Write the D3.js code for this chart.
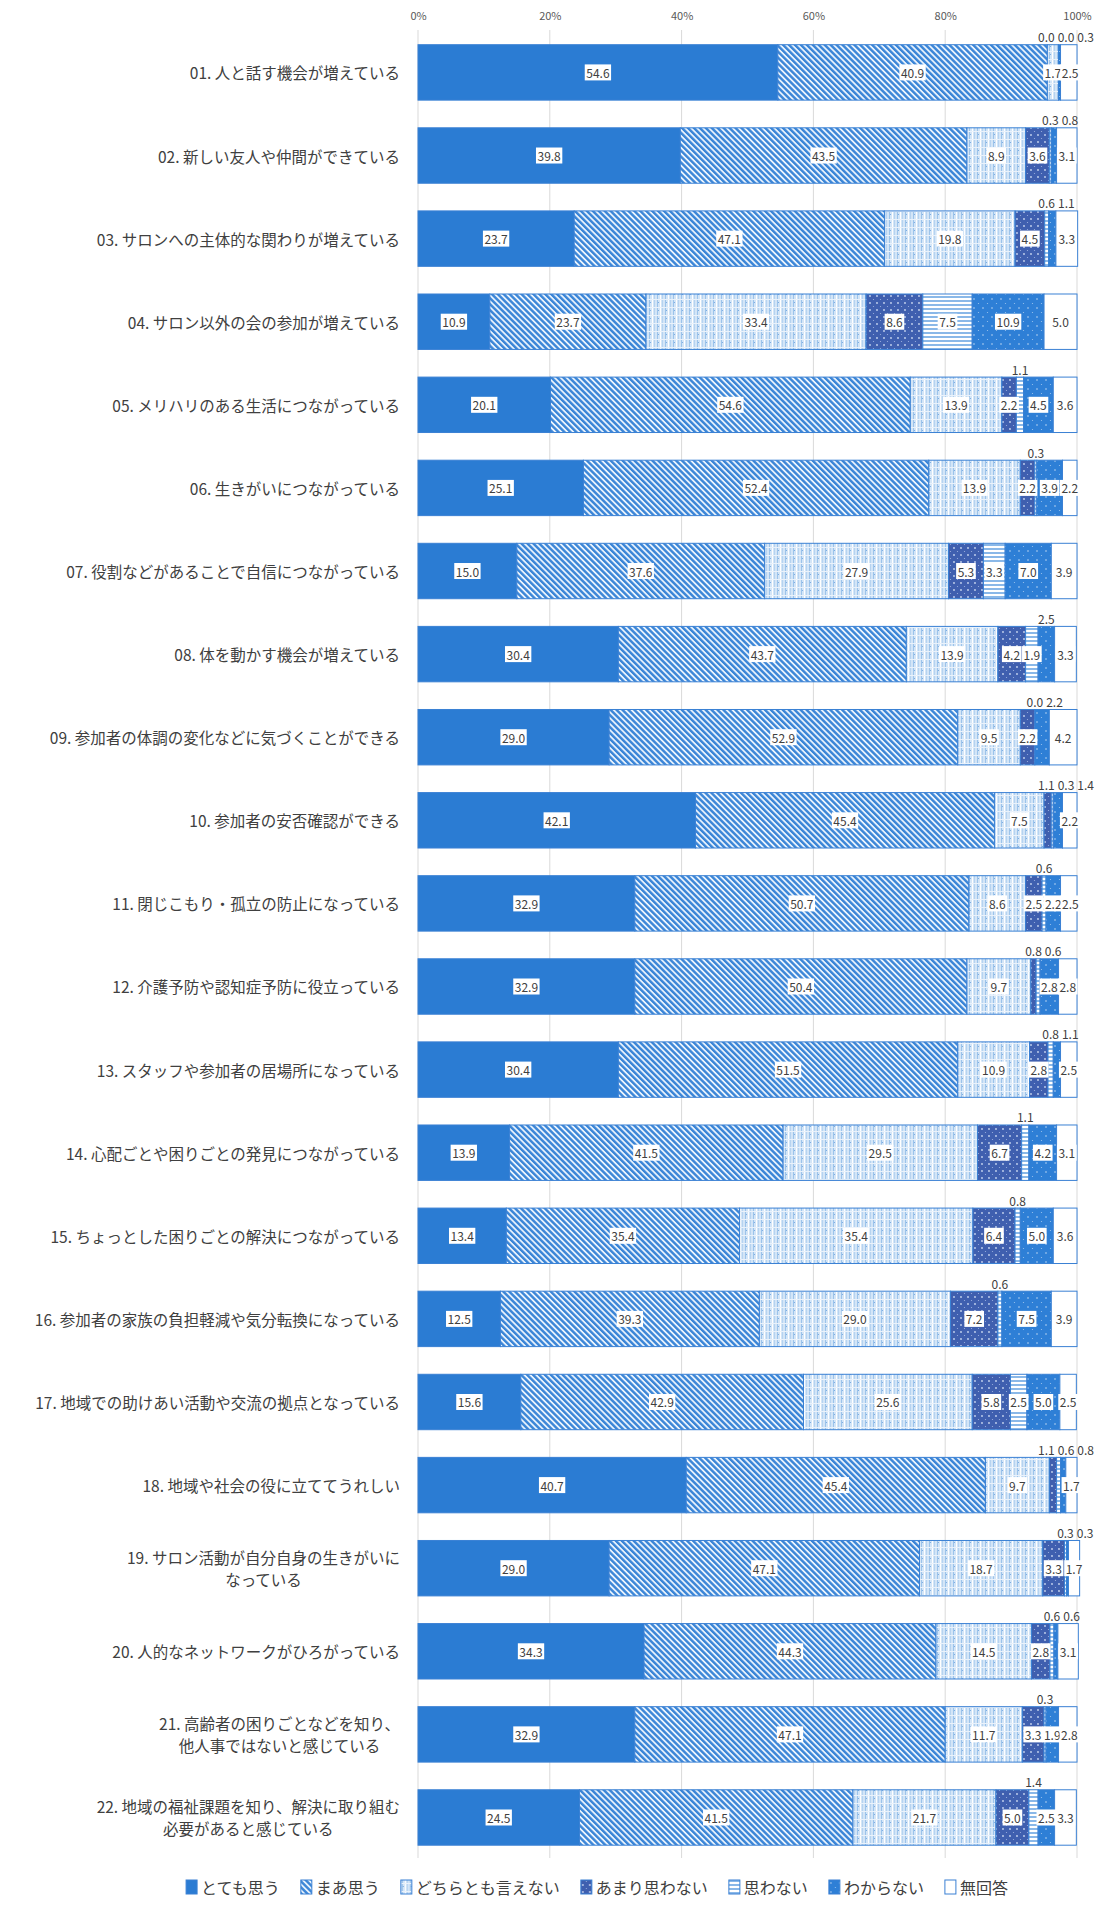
<!DOCTYPE html>
<html><head><meta charset="utf-8">
<script src="https://cdn.jsdelivr.net/npm/d3@7"></script>
<style>body{margin:0;background:#fff;} svg{display:block;}</style>
</head><body>
<svg id="chart" width="1097" height="1907"></svg>
<script>
const categories = [
  "01. 人と話す機会が増えている",
  "02. 新しい友人や仲間ができている",
  "03. サロンへの主体的な関わりが増えている",
  "04. サロン以外の会の参加が増えている",
  "05. メリハリのある生活につながっている",
  "06. 生きがいにつながっている",
  "07. 役割などがあることで自信につながっている",
  "08. 体を動かす機会が増えている",
  "09. 参加者の体調の変化などに気づくことができる",
  "10. 参加者の安否確認ができる",
  "11. 閉じこもり・孤立の防止になっている",
  "12. 介護予防や認知症予防に役立っている",
  "13. スタッフや参加者の居場所になっている",
  "14. 心配ごとや困りごとの発見につながっている",
  "15. ちょっとした困りごとの解決につながっている",
  "16. 参加者の家族の負担軽減や気分転換になっている",
  "17. 地域での助けあい活動や交流の拠点となっている",
  "18. 地域や社会の役に立ててうれしい",
  "19. サロン活動が自分自身の生きがいに\nなっている",
  "20. 人的なネットワークがひろがっている",
  "21. 高齢者の困りごとなどを知り、\n他人事ではないと感じている",
  "22. 地域の福祉課題を知り、解決に取り組む\n必要があると感じている"
];
const seriesNames = ["とても思う","まあ思う","どちらとも言えない","あまり思わない","思わない","わからない","無回答"];
const totemoOmou   = [54.6,39.8,23.7,10.9,20.1,25.1,15.0,30.4,29.0,42.1,32.9,32.9,30.4,13.9,13.4,12.5,15.6,40.7,29.0,34.3,32.9,24.5];
const maaOmou      = [40.9,43.5,47.1,23.7,54.6,52.4,37.6,43.7,52.9,45.4,50.7,50.4,51.5,41.5,35.4,39.3,42.9,45.4,47.1,44.3,47.1,41.5];
const dochiramo    = [1.7,8.9,19.8,33.4,13.9,13.9,27.9,13.9,9.5,7.5,8.6,9.7,10.9,29.5,35.4,29.0,25.6,9.7,18.7,14.5,11.7,21.7];
const amariOmowanai= [0.0,3.6,4.5,8.6,2.2,2.2,5.3,4.2,2.2,1.1,2.5,0.8,2.8,6.7,6.4,7.2,5.8,1.1,3.3,2.8,3.3,5.0];
const omowanai     = [0.0,0.3,0.6,7.5,1.1,0.3,3.3,1.9,0.0,0.3,0.6,0.6,0.8,1.1,0.8,0.6,2.5,0.6,0.3,0.6,0.3,1.4];
const wakaranai    = [0.3,0.8,1.1,10.9,4.5,3.9,7.0,2.5,2.2,1.4,2.2,2.8,1.1,4.2,5.0,7.5,5.0,0.8,0.3,0.6,1.9,2.5];
const mukaitou     = [2.5,3.1,3.3,5.0,3.6,2.2,3.9,3.3,4.2,2.2,2.5,2.8,2.5,3.1,3.6,3.9,2.5,1.7,1.7,3.1,2.8,3.3];
const xTickValues = [0,20,40,60,80,100];
const xTickLabels = ["0%","20%","40%","60%","80%","100%"];

const seriesValues = [totemoOmou, maaOmou, dochiramo, amariOmowanai, omowanai, wakaranai, mukaitou];
const table = categories.map((c,i)=>{
  const o = {cat:c};
  seriesNames.forEach((s,j)=>{ o[s] = seriesValues[j][i]; });
  return o;
});

const svg = d3.select("#chart");
const FONT = "'Noto Sans CJK JP','Noto Sans',sans-serif";
const TXT = "#404040";
const EDGE = "#3a80d4";

// patterns
const defs = svg.append("defs");
function pat(id, w, h, build, transform){
  const p = defs.append("pattern").attr("id",id).attr("patternUnits","userSpaceOnUse")
    .attr("width",w).attr("height",h);
  if (transform) p.attr("patternTransform", transform);
  build(p);
}
pat("p0",4,4,p=>{ p.append("rect").attr("width",4).attr("height",4).attr("fill","#2b7cd3"); });
pat("p1",4.2,4.2,p=>{
  p.append("rect").attr("width",4.2).attr("height",4.2).attr("fill","#eaf3fc");
  p.append("rect").attr("width",2.4).attr("height",4.2).attr("fill","#3a85d7");
},"rotate(-45)");
pat("p2",8,8,p=>{
  p.append("rect").attr("width",8).attr("height",8).attr("fill","#d3e5f7");
  p.append("rect").attr("x",1).attr("width",1).attr("height",8).attr("fill","#9cc3ea");
  p.append("rect").attr("x",4).attr("width",1).attr("height",8).attr("fill","#ffffff");
  p.append("rect").attr("x",6).attr("width",1).attr("height",8).attr("fill","#b6d3f0");
  p.append("rect").attr("y",3).attr("width",8).attr("height",1).attr("fill","#eaf2fb");
  p.append("rect").attr("x",2).attr("y",6).attr("width",1).attr("height",1).attr("fill","#7eaee3");
});
pat("p3",7,7,p=>{
  p.append("rect").attr("width",7).attr("height",7).attr("fill","#3f5faf");
  p.append("circle").attr("cx",2).attr("cy",2).attr("r",0.9).attr("fill","#c9d6f0");
  p.append("circle").attr("cx",5.5).attr("cy",5.5).attr("r",0.6).attr("fill","#9fb3e0");
});
pat("p4",4,4,p=>{
  p.append("rect").attr("width",4).attr("height",4).attr("fill","#ffffff");
  p.append("rect").attr("width",4).attr("height",2).attr("fill","#8ab8e8");
});
pat("p5",9,9,p=>{
  p.append("rect").attr("width",9).attr("height",9).attr("fill","#2e7fd6");
  p.append("circle").attr("cx",2).attr("cy",2).attr("r",0.8).attr("fill","#bfd8f3");
  p.append("circle").attr("cx",6.5).attr("cy",6.5).attr("r",0.6).attr("fill","#9cc4ee");
});
pat("p6",4,4,p=>{ p.append("rect").attr("width",4).attr("height",4).attr("fill","#ffffff"); });

const x = d3.scaleLinear().domain([0,100]).range([418,1077]);
const y = d3.scaleBand().domain(categories).range([30.85,1859.05]).paddingInner(0.333).paddingOuter(0.1667);

// grid
const gridTop = 30, gridBottom = 1858;
svg.append("g").selectAll("line").data(xTickValues).join("line")
  .attr("x1",d=>x(d)).attr("x2",d=>x(d)).attr("y1",gridTop).attr("y2",gridBottom)
  .attr("stroke","#d9d9d9").attr("stroke-width",1);

// axis labels
const axis = d3.axisTop(x).tickValues(xTickValues).tickFormat((d,i)=>xTickLabels[i]).tickSize(0).tickPadding(0);
const ag = svg.append("g").attr("transform","translate(0,20)").call(axis);
ag.select(".domain").remove();
ag.selectAll("text").attr("font-family",FONT).attr("font-size",11).attr("fill","#595959");

// bars
const stack = d3.stack().keys(seriesNames);
const stacked = stack(table);
const gBars = svg.append("g");
stacked.forEach((layer,si)=>{
  gBars.append("g").selectAll("rect").data(layer).join("rect")
    .attr("x",d=>x(d[0])).attr("y",d=>y(d.data.cat))
    .attr("width",d=>Math.max(0,x(d[1])-x(d[0]))).attr("height",y.bandwidth())
    .attr("fill",`url(#p${si})`).attr("stroke",EDGE).attr("stroke-width",1);
});

// category labels
const gCat = svg.append("g");
categories.forEach(c=>{
  const lines = c.split("\n");
  const cy = y(c)+y.bandwidth()/2;
  const right = 400;
  if (lines.length===1){
    gCat.append("text").attr("x",right).attr("y",cy).attr("text-anchor","end")
      .attr("dominant-baseline","central").attr("font-family",FONT).attr("font-size",15.5)
      .attr("fill",TXT).text(c);
  } else {
    const tmp = lines.map((l,i)=>gCat.append("text").attr("font-family",FONT).attr("font-size",15.5)
      .attr("fill",TXT).attr("text-anchor","middle").attr("dominant-baseline","central").text(l));
    const maxW = d3.max(tmp,t=>t.node().getComputedTextLength());
    const cx = right - maxW/2;
    const lh = 22;
    tmp.forEach((t,i)=>t.attr("x",cx).attr("y",cy + (i-(lines.length-1)/2)*lh));
  }
});

// value labels
const fmt = d3.format(".1f");
const gLab = svg.append("g");
categories.forEach((c,ci)=>{
  const top = y(c), mid = top + y.bandwidth()/2;
  const items = stacked.map(layer=>{
    const d = layer[ci];
    return {v: d.data[layer.key], cx: (x(d[0])+x(d[1]))/2};
  });
  const midL = [], topL = [];
  let prevRight = -Infinity;
  items.forEach(it=>{
    const t = gLab.append("text").attr("font-family",FONT).attr("font-size",12)
      .attr("fill",TXT).attr("text-anchor","middle").attr("dominant-baseline","central")
      .text(fmt(it.v));
    it.node = t; it.w = t.node().getComputedTextLength();
    if (it.v < 1.5) { topL.push(it); return; }
    const overlap = prevRight - (it.cx - it.w/2);
    if (overlap > 1.5) { topL.push(it); return; }
    if (overlap > -0.5) it.cx += overlap + 0.5;
    midL.push(it); prevRight = it.cx + it.w/2;
  });
  midL.forEach(it=>{
    gLab.insert("rect", function(){ return it.node.node(); })
      .attr("x",it.cx-it.w/2-1.5).attr("y",mid-8).attr("width",it.w+3).attr("height",16)
      .attr("fill","#ffffff");
    it.node.attr("x",it.cx).attr("y",mid);
  });
  // top tier: avoid overlaps, small gap between neighbours
  const gapT = 3;
  let pr = -Infinity;
  topL.forEach(it=>{
    let cx = it.cx;
    if (cx - it.w/2 < pr + gapT) cx = pr + gapT + it.w/2;
    it.px = cx; pr = cx + it.w/2;
  });
  if (topL.length){
    const excess = pr - 1094;
    if (excess>0) topL.forEach(it=>it.px -= excess);
  }
  topL.forEach(it=>it.node.attr("x",it.px).attr("y",top-8));
});

// legend
const gLeg = svg.append("g");
const legY = 1887;
const legItems = seriesNames.map((s,i)=>{
  const g = gLeg.append("g");
  g.append("rect").attr("x",0).attr("y",legY-7).attr("width",11).attr("height",14)
    .attr("fill",`url(#p${i})`).attr("stroke",EDGE).attr("stroke-width",1);
  const t = g.append("text").attr("x",15).attr("y",legY).attr("dominant-baseline","central")
    .attr("font-family",FONT).attr("font-size",16).attr("fill",TXT).text(s);
  const w = 15 + t.node().getComputedTextLength();
  return {g,w};
});
const gap = 21;
const total = d3.sum(legItems,d=>d.w) + gap*(legItems.length-1);
let lx = 597 - total/2;
legItems.forEach(it=>{ it.g.attr("transform",`translate(${lx},0)`); lx += it.w + gap; });
</script>
</body></html>
